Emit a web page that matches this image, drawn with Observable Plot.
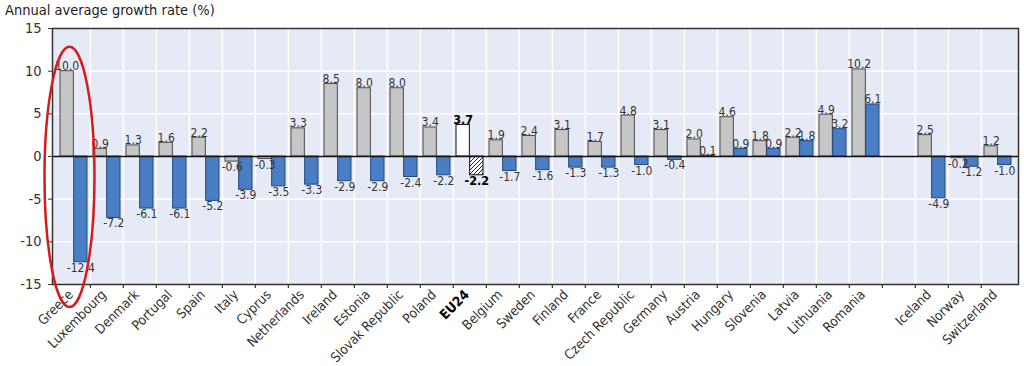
<!DOCTYPE html>
<html>
<head>
<meta charset="utf-8">
<script src="https://cdn.jsdelivr.net/npm/d3@7"></script>
<script src="https://cdn.jsdelivr.net/npm/@observablehq/plot@0.6"></script>
<style>
  body { margin: 0; background: #fff; font-family: "Liberation Sans Narrow", "Arial Narrow", "DejaVu Sans Condensed", sans-serif; }
  #title { height: 20px; line-height: 20px; font-size: 14.5px; color: #222; padding-left: 5px; white-space: nowrap; }
</style>
</head>
<body>
<div id="title">Annual average growth rate (%)</div>
<div id="chart"></div>
<script>
// ---- data ----
const countries = ["Greece", "Luxembourg", "Denmark", "Portugal", "Spain", "Italy", "Cyprus", "Netherlands",
  "Ireland", "Estonia", "Slovak Republic", "Poland", "EU24", "Belgium", "Sweden", "Finland", "France",
  "Czech Republic", "Germany", "Austria", "Hungary", "Slovenia", "Latvia", "Lithuania", "Romania",
  "Iceland", "Norway", "Switzerland"];
const period1 = [10.0, 0.9, 1.3, 1.6, 2.2, -0.6, -0.3, 3.3, 8.5, 8.0, 8.0, 3.4, 3.7, 1.9, 2.4, 3.1, 1.7,
  4.8, 3.1, 2.0, 4.6, 1.8, 2.2, 4.9, 10.2, 2.5, -0.2, 1.2];
const period2 = [-12.4, -7.2, -6.1, -6.1, -5.2, -3.9, -3.5, -3.3, -2.9, -2.9, -2.4, -2.2, -2.2, -1.7, -1.6,
  -1.3, -1.3, -1.0, -0.4, 0.1, 0.9, 0.9, 1.8, 3.2, 6.1, -4.9, -1.2, -1.0];
const gapAfter = "Romania";           // empty slot separating non-EU countries
const highlight = "EU24";
const yTicks = [-15, -10, -5, 0, 5, 10, 15];
const yDomain = [-15, 15];
const circled = [{country: "Greece", top: 12.8, bottom: -17.7}];

// ---- build ----
const GAP = "__gap__";
const slots = [];
countries.forEach(c => { slots.push(c); if (c === gapAfter) slots.push(GAP); });

const rows1 = countries.map((c, i) => ({country: c, value: period1[i]}));
const rows2 = countries.map((c, i) => ({country: c, value: period2[i]}));

const W = 1024, H = 346, mL = 52, mR = 6, mT = 8, mB = 82;
const bw = (W - mL - mR) / slots.length;
const pad = 3;
const half = bw / 2;
const off = (half - pad) / 2;   // label offset from slot centre

const isH = d => d.country === highlight;
const fmt = d => d.value.toFixed(1);
const grey = {fill: "#c6c6c6", stroke: "#4a4a4a", strokeWidth: 1};
const blue = {fill: "#4a7ec4", stroke: "#22477c", strokeWidth: 1};
const lbl = {fill: "#333", fontSize: 12};
const lblB = {fill: "#000", fontSize: 12.5, fontWeight: "bold"};

const plot = Plot.plot({
  width: W, height: H,
  marginLeft: mL, marginRight: mR, marginTop: mT, marginBottom: mB,
  style: {fontFamily: '"Liberation Sans Narrow", "Arial Narrow", "DejaVu Sans Condensed", sans-serif', background: "#fff", color: "#333"},
  x: {type: "band", domain: slots, padding: 0, axis: null},
  y: {domain: yDomain, axis: null},
  marks: [
    Plot.frame({fill: "#e6eaf6", stroke: null}),
    Plot.gridY(yTicks.filter(t => t !== 0 && Math.abs(t) !== 15), {stroke: "#fff", strokeOpacity: 1, strokeWidth: 1.5}),
    Plot.ruleX(slots.slice(1), {x: d => d, dx: -half, stroke: "#fff", strokeWidth: 1.5}),
    // bars
    Plot.barY(rows1.filter(d => !isH(d)), {x: "country", y: "value", ...grey, insetLeft: pad, insetRight: half}),
    Plot.barY(rows1.filter(isH), {x: "country", y: "value", fill: "#fff", stroke: "#111", strokeWidth: 1, insetLeft: pad, insetRight: half}),
    Plot.barY(rows2.filter(d => !isH(d)), {x: "country", y: "value", ...blue, insetLeft: half, insetRight: pad}),
    Plot.barY(rows2.filter(isH), {x: "country", y: "value", fill: "url(#hatch)", stroke: "#111", strokeWidth: 1, insetLeft: half, insetRight: pad}),
    Plot.ruleY([0], {stroke: "#111", strokeWidth: 1.5}),
    // frame & ticks
    Plot.frame({stroke: "#333", strokeWidth: 1.5}),
    Plot.ruleX(slots.slice(1), {x: d => d, dx: -half, y1: yDomain[0], y2: yDomain[0], insetBottom: -4, stroke: "#333", strokeWidth: 1.2}),
    Plot.axisY({ticks: yTicks, tickFormat: d => String(d), tickSize: 4, tickPadding: 7, fontSize: 14.5, label: null, stroke: "#333"}),
    // value labels
    Plot.text(rows1.filter(d => !isH(d) && d.value >= 0), {x: "country", y: "value", text: fmt, dx: -off, dy: -1, lineAnchor: "bottom", ...lbl}),
    Plot.text(rows1.filter(d => !isH(d) && d.value < 0), {x: "country", y: "value", text: fmt, dx: -off, dy: 1, lineAnchor: "top", ...lbl}),
    Plot.text(rows2.filter(d => !isH(d) && d.value >= 0), {x: "country", y: "value", text: fmt, dx: off, dy: -1, lineAnchor: "bottom", ...lbl}),
    Plot.text(rows2.filter(d => !isH(d) && d.value < 0), {x: "country", y: "value", text: fmt, dx: off, dy: 1, lineAnchor: "top", ...lbl}),
    Plot.text(rows1.filter(isH), {x: "country", y: "value", text: fmt, dx: -off, dy: -1, lineAnchor: "bottom", ...lblB}),
    Plot.text(rows2.filter(isH), {x: "country", y: "value", text: fmt, dx: off, dy: 1, lineAnchor: "top", ...lblB}),
    // category labels
    Plot.text(countries.filter(c => c !== highlight), {x: d => d, frameAnchor: "bottom", text: d => d, rotate: -45, textAnchor: "end", dy: 11, fontSize: 13.5, fill: "#333"}),
    Plot.text(countries.filter(c => c === highlight), {x: d => d, frameAnchor: "bottom", text: d => d, rotate: -45, textAnchor: "end", dy: 11, fontSize: 13.5, fill: "#000", fontWeight: "bold"})
  ]
});

// hatch pattern for the highlighted bar
const svg = d3.select(plot);
const defs = svg.insert("defs", ":first-child");
const pat = defs.append("pattern").attr("id", "hatch").attr("patternUnits", "userSpaceOnUse").attr("width", 4).attr("height", 4);
pat.append("rect").attr("width", 4).attr("height", 4).attr("fill", "#fff");
pat.append("path").attr("d", "M-1,1 l2,-2 M0,4 l4,-4 M3,5 l2,-2").attr("stroke", "#222").attr("stroke-width", 1);

// red ellipse annotation around the circled country
const xs = plot.scale("x"), ys = plot.scale("y");
circled.forEach(a => {
  const cx = xs.apply(a.country) + xs.bandwidth / 2 - 4;
  const yTop = ys.apply(a.top), yBot = ys.apply(a.bottom);
  svg.append("ellipse")
    .attr("cx", cx).attr("cy", (yTop + yBot) / 2)
    .attr("rx", 25).attr("ry", (yBot - yTop) / 2)
    .attr("fill", "none").attr("stroke", "#d41c1c").attr("stroke-width", 2.5);
});

document.getElementById("chart").appendChild(plot);
</script>
</body>
</html>
